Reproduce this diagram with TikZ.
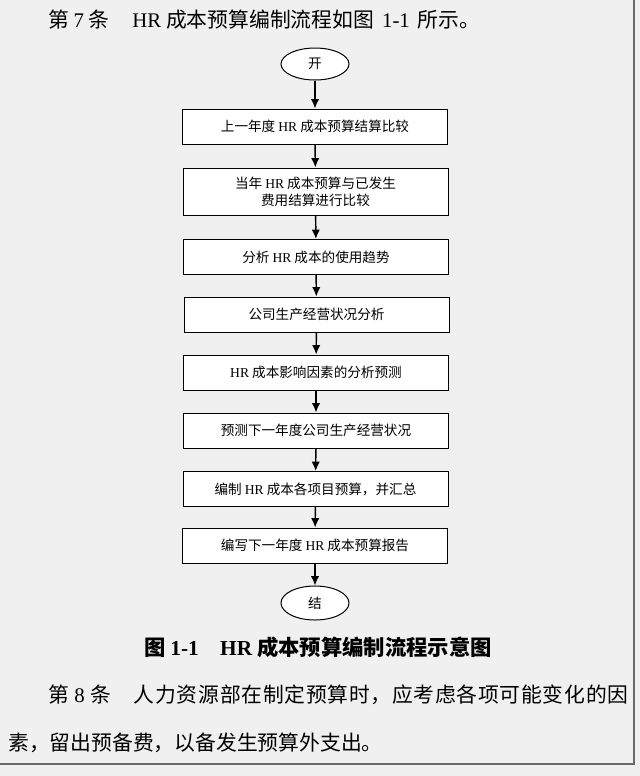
\documentclass[tikz,border=0pt]{standalone}
\usepackage{fontspec}
\setmainfont{Noto Sans CJK SC}
\newfontfamily\lat{Liberation Serif}
\usepackage{tikz}
\usetikzlibrary{shapes}
\usetikzlibrary{arrows.meta}
\definecolor{pagegray}{RGB}{240,240,240}
\definecolor{rulegray}{RGB}{105,105,105}
\newcommand{\HR}{{\lat HR}}

\begin{document}
\begin{tikzpicture}[x=0.75pt,y=0.75pt,yscale=-1,xscale=1,
  flowbox/.style={draw, fill=white, line width=0.75pt, minimum width=198.75pt, minimum height=26.25pt, inner sep=0.75pt, align=center, font=\fontsize{10.2}{12.5}\selectfont},
  term/.style={ellipse, draw, fill=white, line width=0.75pt, minimum width=51pt, minimum height=24pt, inner sep=0pt, font=\fontsize{10.2}{12}\selectfont},
  flow/.style={line width=1.1pt, -{Latex[length=7pt,width=6.2pt]}}]

\useasboundingbox (0,0) rectangle (640,776);
% Page
\fill [pagegray] (0,0) rectangle (640,776);
\draw [rulegray, line width=1.5pt] (634,0) -- (634,764) -- (0,764);

% Text Node
\draw (48,20) node [anchor=west][inner sep=0pt] [font=\fontsize{15.6}{18}\selectfont] (head) {第 {\lat 7} 条\hspace{1.1em}\HR{} 成本预算编制流程如图\, {\lat 1-1}\, 所示。};

% Terminal
\draw (315,64) node [term] (start) {开};
% Step boxes
\draw (315,126.5) node [flowbox] (b1) {上一年度 \HR{} 成本预算结算比较};
\draw (315.5,191.5) node [flowbox, minimum height=35.25pt] (b2) {当年 \HR{} 成本预算与已发生\\费用结算进行比较};
\draw (316,257) node [flowbox] (b3) {分析 \HR{} 成本的使用趋势};
\draw (316.5,314.5) node [flowbox] (b4) {公司生产经营状况分析};
\draw (316,372.5) node [flowbox] (b5) {\HR{} 成本影响因素的分析预测};
\draw (316,430.5) node [flowbox] (b6) {预测下一年度公司生产经营状况};
\draw (315.5,489) node [flowbox] (b7) {编制 \HR{} 成本各项目预算，并汇总};
\draw (315,545.5) node [flowbox] (b8) {编写下一年度 \HR{} 成本预算报告};
% Terminal
\draw (315,603) node [term, minimum height=25.5pt] (stop) {结};

% Connections
\draw [flow] (start) -- (b1);
\draw [flow] (b1) -- (b2);
\draw [flow] (b2) -- (b3);
\draw [flow] (b3) -- (b4);
\draw [flow] (b4) -- (b5);
\draw [flow] (b5) -- (b6);
\draw [flow] (b6) -- (b7);
\draw [flow] (b7) -- (b8);
\draw [flow] (b8) -- (stop);

% Caption
\draw (318,647) node [inner sep=0pt] [font=\bfseries\fontsize{16}{19}\selectfont] (cap) {图 {\lat 1-1}\hspace{1em}\HR{} 成本预算编制流程示意图};

% Text Node
\draw (48,695) node [anchor=west][inner sep=0pt] [font=\fontsize{15.6}{18}\selectfont\addfontfeature{LetterSpace=3.5}] (para1) {第 {\lat 8} 条\hspace{1.1em}人力资源部在制定预算时，应考虑各项可能变化的因};
% Text Node
\draw (8,743) node [anchor=west][inner sep=0pt] [font=\fontsize{15.6}{18}\selectfont] (para2) {素，留出预备费，以备发生预算外支出。};

\end{tikzpicture}
\end{document}
